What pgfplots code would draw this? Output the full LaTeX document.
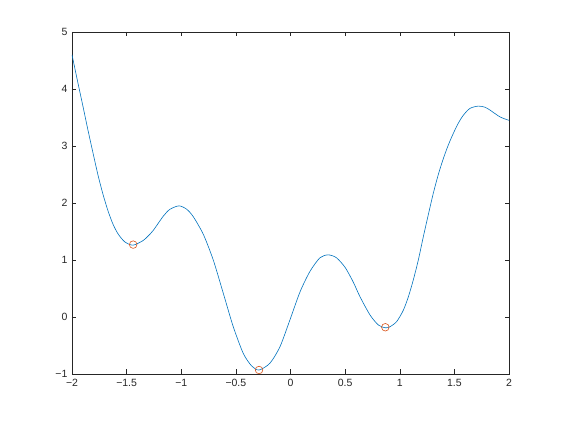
\documentclass[border=0pt]{standalone}
\usepackage{pgfplots}
\pgfplotsset{compat=1.18}
\usepackage{fontspec}
\setmainfont{Liberation Sans}
\definecolor{mblue}{rgb}{0,0.447,0.741}
\definecolor{morange}{rgb}{0.85,0.325,0.098}
\definecolor{axgray}{rgb}{0.15,0.15,0.15}
\begin{document}
\begin{tikzpicture}
\path[use as bounding box] (-72pt,-48pt) rectangle (490pt,374pt);
\begin{axis}[
  at={(0,0)}, anchor=south west,
  scale only axis, width=437pt, height=342pt,
  xmin=-2, xmax=2, ymin=-1, ymax=5,
  xtick={-2,-1.5,-1,-0.5,0,0.5,1,1.5,2},
  xticklabels={−2,−1.5,−1,−0.5,0,0.5,1,1.5,2},
  ytick={-1,0,1,2,3,4,5},
  yticklabels={−1,0,1,2,3,4,5},
  tick align=inside, major tick length=4.5pt,
  axis line style={axgray, line width=0.5pt},
  every tick/.style={axgray, line width=0.5pt},
  tick label style={font=\fontsize{10.5}{12}\selectfont, text=axgray},
  xticklabel style={yshift=-2pt},
  yticklabel style={xshift=-1pt},
  clip=true,
]
\addplot[mblue, line width=0.6pt, smooth, tension=0.45] coordinates {
(-2.00,4.60) (-1.945,4.10) (-1.899,3.69) (-1.854,3.28) (-1.808,2.88)
(-1.762,2.49) (-1.716,2.15) (-1.67,1.86) (-1.625,1.63) (-1.579,1.46) (-1.518,1.32)
(-1.442,1.26) (-1.35,1.34) (-1.304,1.42) (-1.256,1.52) (-1.164,1.77)
(-1.103,1.89) (-1.02,1.95) (-0.95,1.89) (-0.89,1.76) (-0.798,1.45) (-0.707,1.0) (-0.615,0.415)
(-0.524,-0.17) (-0.432,-0.64) (-0.355,-0.86) (-0.288,-0.93) (-0.188,-0.81)
(-0.096,-0.52) (-0.005,-0.05) (0.087,0.44) (0.178,0.80) (0.27,1.04) (0.346,1.09)
(0.42,1.04) (0.50,0.87) (0.575,0.61) (0.636,0.356) (0.728,0.035) (0.804,-0.14) (0.868,-0.19)
(0.911,-0.17) (0.972,-0.08) (1.033,0.12) (1.079,0.356) (1.124,0.65) (1.170,1.0)
(1.216,1.41) (1.262,1.80) (1.307,2.17) (1.353,2.50) (1.399,2.78) (1.445,3.02)
(1.490,3.22) (1.536,3.40) (1.582,3.54) (1.643,3.66) (1.719,3.70) (1.78,3.68)
(1.826,3.63) (1.918,3.51) (2.0,3.45)
};
\addplot[only marks, mark=o, mark size=3.8pt, morange, mark options={line width=0.6pt}] coordinates {
(-1.44,1.27) (-0.288,-0.93) (0.868,-0.18)
};
\end{axis}
\end{tikzpicture}
\end{document}
